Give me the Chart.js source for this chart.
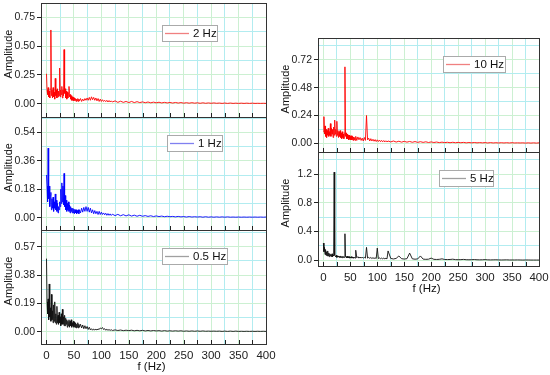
<!DOCTYPE html>
<html>
<head>
<meta charset="utf-8">
<script src="https://cdn.jsdelivr.net/npm/chart.js@4.4.1/dist/chart.umd.min.js"></script>
<style>
  body { margin: 0; background: #fff; width: 550px; height: 375px; overflow: hidden; }
  .box { position: absolute; }
</style>
</head>
<body>
<div class="box" style="left:0;top:0;width:280px;height:120px"><canvas id="c2hz"></canvas></div>
<div class="box" style="left:0;top:114px;width:280px;height:119px"><canvas id="c1hz"></canvas></div>
<div class="box" style="left:0;top:227px;width:280px;height:148px"><canvas id="c05hz"></canvas></div>
<div class="box" style="left:280px;top:35px;width:270px;height:120px"><canvas id="c10hz"></canvas></div>
<div class="box" style="left:280px;top:149px;width:270px;height:150px"><canvas id="c5hz"></canvas></div>
<script>
// frequency axis of the spectra (Hz): 1 Hz steps to 60, 2 Hz to 120, 5 Hz to 400
const freq = [
    0, 1, 2, 3, 4, 5, 6, 7, 8, 9,
    10, 11, 12, 13, 14, 15, 16, 17, 18, 19,
    20, 21, 22, 23, 24, 25, 26, 27, 28, 29,
    30, 31, 32, 33, 34, 35, 36, 37, 38, 39,
    40, 41, 42, 43, 44, 45, 46, 47, 48, 49,
    50, 51, 52, 53, 54, 55, 56, 57, 58, 59,
    60,
    62, 64, 66, 68, 70, 72, 74, 76, 78, 80,
    82, 84, 86, 88, 90, 92, 94, 96, 98, 100,
    102, 104, 106, 108, 110, 112, 114, 116, 118, 120,
    125, 130, 135, 140, 145, 150, 155, 160, 165, 170,
    175, 180, 185, 190, 195, 200, 205, 210, 215, 220,
    225, 230, 235, 240, 245, 250, 255, 260, 265, 270,
    275, 280, 285, 290, 295, 300, 305, 310, 315, 320,
    325, 330, 335, 340, 345, 350, 355, 360, 365, 370,
    375, 380, 385, 390, 395, 400
];

const amp2Hz = [
    0.26, 0.12, 0.08, 0.14, 0.06, 0.11, 0.05, 0.13, 0.64, 0.07,
    0.12, 0.05, 0.14, 0.06, 0.10, 0.04, 0.22, 0.07, 0.12, 0.05,
    0.13, 0.06, 0.11, 0.07, 0.31, 0.06, 0.12, 0.08, 0.15, 0.05,
    0.12, 0.07, 0.47, 0.09, 0.13, 0.05, 0.11, 0.04, 0.10, 0.05,
    0.09, 0.15, 0.06, 0.08, 0.04, 0.07, 0.03, 0.06, 0.03, 0.055,
    0.025, 0.05, 0.03, 0.045, 0.02, 0.04, 0.025, 0.045, 0.02, 0.04,
    0.025,
    0.045, 0.02, 0.04, 0.025, 0.045, 0.03, 0.05, 0.03, 0.055, 0.03,
    0.06, 0.035, 0.055, 0.03, 0.05, 0.025, 0.045, 0.02, 0.04, 0.02,
    0.035, 0.02, 0.03, 0.018, 0.03, 0.015, 0.028, 0.015, 0.025, 0.015,
    0.025, 0.012, 0.022, 0.012, 0.02, 0.01, 0.02, 0.01, 0.018, 0.01,
    0.016, 0.009, 0.015, 0.008, 0.014, 0.008, 0.013, 0.007, 0.012, 0.007,
    0.011, 0.006, 0.011, 0.006, 0.01, 0.005, 0.009, 0.005, 0.009, 0.005,
    0.008, 0.004, 0.008, 0.004, 0.007, 0.004, 0.007, 0.004, 0.006, 0.003,
    0.006, 0.003, 0.006, 0.003, 0.005, 0.003, 0.005, 0.003, 0.005, 0.003,
    0.005, 0.003, 0.004, 0.003, 0.004, 0.003
];

const amp1Hz = [
    0.27, 0.20, 0.10, 0.44, 0.12, 0.20, 0.07, 0.14, 0.16, 0.05,
    0.12, 0.06, 0.13, 0.04, 0.10, 0.06, 0.15, 0.05, 0.11, 0.04,
    0.09, 0.03, 0.07, 0.05, 0.10, 0.07, 0.18, 0.09, 0.22, 0.10,
    0.20, 0.08, 0.28, 0.07, 0.14, 0.05, 0.11, 0.04, 0.09, 0.05,
    0.10, 0.04, 0.08, 0.03, 0.07, 0.04, 0.06, 0.03, 0.06, 0.03,
    0.055, 0.025, 0.05, 0.03, 0.05, 0.025, 0.045, 0.03, 0.05, 0.025,
    0.05,
    0.03, 0.06, 0.035, 0.065, 0.04, 0.07, 0.04, 0.065, 0.035, 0.06,
    0.03, 0.05, 0.025, 0.045, 0.025, 0.04, 0.02, 0.04, 0.02, 0.035,
    0.02, 0.03, 0.018, 0.028, 0.015, 0.026, 0.015, 0.024, 0.014, 0.022,
    0.013, 0.021, 0.012, 0.019, 0.011, 0.018, 0.01, 0.016, 0.009, 0.015,
    0.009, 0.013, 0.008, 0.012, 0.007, 0.011, 0.007, 0.01, 0.006, 0.009,
    0.006, 0.008, 0.005, 0.008, 0.005, 0.007, 0.004, 0.007, 0.004, 0.006,
    0.004, 0.006, 0.003, 0.006, 0.003, 0.005, 0.003, 0.005, 0.003, 0.005,
    0.003, 0.005, 0.003, 0.004, 0.003, 0.004, 0.003, 0.004, 0.003, 0.004,
    0.003, 0.004, 0.003, 0.004, 0.003, 0.004
];

const amp05Hz = [
    0.49, 0.20, 0.12, 0.22, 0.08, 0.32, 0.10, 0.16, 0.07, 0.25,
    0.08, 0.14, 0.06, 0.18, 0.07, 0.20, 0.06, 0.12, 0.05, 0.17,
    0.06, 0.11, 0.05, 0.13, 0.06, 0.10, 0.04, 0.12, 0.05, 0.15,
    0.05, 0.10, 0.04, 0.11, 0.04, 0.09, 0.05, 0.08, 0.03, 0.07,
    0.04, 0.08, 0.03, 0.07, 0.04, 0.08, 0.03, 0.06, 0.04, 0.07,
    0.03, 0.065, 0.03, 0.06, 0.025, 0.05, 0.03, 0.06, 0.025, 0.05,
    0.03,
    0.05, 0.025, 0.045, 0.02, 0.04, 0.02, 0.035, 0.015, 0.03, 0.012,
    0.02, 0.01, 0.018, 0.012, 0.016, 0.012, 0.018, 0.015, 0.025, 0.02,
    0.028, 0.015, 0.02, 0.01, 0.016, 0.01, 0.014, 0.009, 0.013, 0.008,
    0.012, 0.008, 0.011, 0.007, 0.01, 0.007, 0.01, 0.006, 0.009, 0.006,
    0.009, 0.005, 0.008, 0.005, 0.008, 0.005, 0.007, 0.004, 0.007, 0.004,
    0.006, 0.004, 0.006, 0.004, 0.006, 0.003, 0.005, 0.003, 0.005, 0.003,
    0.005, 0.003, 0.005, 0.003, 0.004, 0.003, 0.004, 0.003, 0.004, 0.002,
    0.004, 0.002, 0.004, 0.002, 0.004, 0.002, 0.003, 0.002, 0.003, 0.002,
    0.003, 0.002, 0.003, 0.002, 0.003, 0.002
];

const amp10Hz = [
    0.10, 0.23, 0.08, 0.15, 0.06, 0.12, 0.05, 0.11, 0.07, 0.13,
    0.06, 0.10, 0.07, 0.17, 0.06, 0.13, 0.08, 0.12, 0.05, 0.14,
    0.07, 0.20, 0.08, 0.12, 0.06, 0.19, 0.07, 0.11, 0.05, 0.10,
    0.06, 0.11, 0.05, 0.09, 0.04, 0.10, 0.05, 0.08, 0.04, 0.09,
    0.66, 0.06, 0.09, 0.04, 0.08, 0.04, 0.07, 0.03, 0.07, 0.035,
    0.06, 0.03, 0.065, 0.03, 0.06, 0.025, 0.055, 0.03, 0.05, 0.025,
    0.06,
    0.025, 0.055, 0.03, 0.05, 0.025, 0.045, 0.02, 0.05, 0.025, 0.24,
    0.03, 0.045, 0.02, 0.04, 0.02, 0.035, 0.018, 0.032, 0.015, 0.03,
    0.015, 0.028, 0.014, 0.025, 0.013, 0.024, 0.012, 0.022, 0.012, 0.02,
    0.012, 0.02, 0.011, 0.018, 0.01, 0.017, 0.01, 0.016, 0.009, 0.015,
    0.008, 0.014, 0.008, 0.013, 0.007, 0.012, 0.007, 0.011, 0.006, 0.01,
    0.006, 0.009, 0.005, 0.009, 0.005, 0.008, 0.005, 0.008, 0.004, 0.007,
    0.004, 0.007, 0.004, 0.006, 0.004, 0.006, 0.003, 0.006, 0.003, 0.005,
    0.003, 0.005, 0.003, 0.005, 0.003, 0.005, 0.003, 0.004, 0.003, 0.004,
    0.002, 0.004, 0.002, 0.004, 0.002, 0.004
];

const amp5Hz = [
    0.24, 0.12, 0.18, 0.08, 0.15, 0.07, 0.12, 0.06, 0.13, 0.06,
    0.10, 0.05, 0.09, 0.06, 0.08, 0.05, 0.09, 0.05, 0.07, 0.06,
    1.23, 0.07, 0.06, 0.05, 0.07, 0.04, 0.06, 0.045, 0.06, 0.04,
    0.055, 0.04, 0.06, 0.04, 0.05, 0.035, 0.055, 0.04, 0.05, 0.04,
    0.37, 0.05, 0.05, 0.035, 0.055, 0.035, 0.05, 0.035, 0.05, 0.03,
    0.045, 0.035, 0.05, 0.03, 0.045, 0.03, 0.045, 0.035, 0.04, 0.03,
    0.14,
    0.035, 0.05, 0.03, 0.045, 0.03, 0.045, 0.03, 0.04, 0.03, 0.18,
    0.03, 0.04, 0.028, 0.038, 0.025, 0.036, 0.025, 0.034, 0.024, 0.17,
    0.024, 0.032, 0.022, 0.03, 0.02, 0.03, 0.02, 0.028, 0.02, 0.13,
    0.025, 0.018, 0.026, 0.06, 0.022, 0.017, 0.022, 0.10, 0.02, 0.015,
    0.019, 0.06, 0.016, 0.013, 0.015, 0.03, 0.013, 0.011, 0.013, 0.02,
    0.011, 0.01, 0.011, 0.015, 0.009, 0.008, 0.009, 0.012, 0.008, 0.007,
    0.008, 0.01, 0.007, 0.006, 0.007, 0.009, 0.006, 0.005, 0.006, 0.007,
    0.005, 0.004, 0.005, 0.006, 0.004, 0.004, 0.004, 0.005, 0.004, 0.003,
    0.004, 0.004, 0.003, 0.003, 0.003, 0.003
];

// tick labels
const xLabels = [0, 50, 100, 150, 200, 250, 300, 350, 400];
const yLabels2Hz = ['0.00', '0.25', '0.50', '0.75'];
const yLabels1Hz = ['0.00', '0.18', '0.36', '0.54'];
const yLabels05Hz = ['0.00', '0.19', '0.38', '0.57'];
const yLabels10Hz = ['0.00', '0.24', '0.48', '0.72'];
const yLabels5Hz = ['0.0', '0.4', '0.8', '1.2'];

const FONT = "'Liberation Sans', Arial, sans-serif";
const GRID_MAJOR = 'rgb(204,240,210)';
const GRID_MINOR = 'rgb(178,236,240)';

// frame, inward x ticks, legend box and axis titles for one panel
function framePlugin(lg, xTitle) {
    return {
        id: 'frame',
        afterDatasetsDraw(chart) {
            const ctx = chart.ctx, a = chart.chartArea;
            ctx.save();
            const xs = chart.scales.x;
            ctx.lineWidth = 1;
            ctx.strokeStyle = '#222';
            ctx.beginPath();
            for (let v = 0; v <= 400; v += 25) {
                const px = Math.round(xs.getPixelForValue(v)) + 0.5;
                ctx.moveTo(px, a.bottom);
                ctx.lineTo(px, a.bottom - 4);
            }
            ctx.stroke();
            ctx.strokeStyle = '#333';
            ctx.strokeRect(Math.round(a.left) + 0.5, Math.round(a.top) + 0.5,
                Math.round(a.right - a.left), Math.round(a.bottom - a.top));

            const lx = Math.round(a.left + lg.x), ly = Math.round(a.top + lg.y);
            ctx.fillStyle = '#fff';
            ctx.fillRect(lx, ly, lg.w, 16);
            ctx.strokeStyle = '#aaa';
            ctx.strokeRect(lx + 0.5, ly + 0.5, lg.w, 16);
            ctx.beginPath();
            ctx.lineWidth = 1.3;
            ctx.strokeStyle = lg.swatch;
            ctx.moveTo(lx + 3, ly + 8.5);
            ctx.lineTo(lx + 27, ly + 8.5);
            ctx.stroke();
            ctx.fillStyle = '#111';
            ctx.font = '11.5px ' + FONT;
            ctx.textBaseline = 'middle';
            ctx.textAlign = 'left';
            ctx.fillText(lg.text, lx + 31, ly + 9);

            ctx.textAlign = 'center';
            ctx.font = '11px ' + FONT;
            ctx.save();
            ctx.translate(a.left - 32, (a.top + a.bottom) / 2 - 6);
            ctx.rotate(-Math.PI / 2);
            ctx.fillText('Amplitude', 0, 0);
            ctx.restore();
            if (xTitle) {
                ctx.font = '11.5px ' + FONT;
                ctx.fillText('f (Hz)', (a.left + a.right) / 2 - 2, a.bottom + 23);
            }
            ctx.restore();
        }
    };
}

function spectrum(id, amps, color, yLabels, yMin, yMax, geo, legend) {
    const vals = yLabels.map(Number);
    const step = (vals[1] - vals[0]) / 2;
    new Chart(document.getElementById(id).getContext('2d'), {
        type: 'line',
        data: {
            datasets: [{
                data: freq.map((f, i) => ({ x: f, y: amps[i] })),
                borderColor: color, borderWidth: 0.9, pointRadius: 0, tension: 0
            }]
        },
        options: {
            responsive: true, maintainAspectRatio: false, animation: false,
            layout: { padding: { left: 0, top: geo.top, right: geo.right, bottom: 0 } },
            plugins: { legend: { display: false }, tooltip: { enabled: false } },
            scales: {
                x: {
                    type: 'linear', min: -10, max: 400,
                    afterBuildTicks: s => {
                        const t = [];
                        for (let v = 0; v <= 400; v += 25) t.push({ value: v });
                        s.ticks = t;
                    },
                    afterFit: s => { s.height = geo.xh; s.paddingLeft = 0; s.paddingRight = 0; },
                    grid: { drawTicks: false, color: c => (c.tick && c.tick.value % 50 === 0) ? GRID_MAJOR : GRID_MINOR },
                    border: { display: false },
                    ticks: {
                        display: geo.xTitle, padding: 5, color: '#222', maxRotation: 0, autoSkip: false,
                        font: { family: FONT, size: 11.5 },
                        callback: v => xLabels.includes(v) ? String(v) : ''
                    }
                },
                y: {
                    min: yMin, max: yMax,
                    afterBuildTicks: s => {
                        const t = [];
                        for (let k = Math.ceil(yMin / step); k * step <= yMax; k++) t.push({ value: k * step });
                        s.ticks = t;
                    },
                    afterFit: s => { s.width = geo.yw; s.paddingTop = 0; s.paddingBottom = 0; },
                    grid: {
                        tickLength: 4,
                        color: c => {
                            if (!c.tick) return GRID_MINOR;
                            const k = Math.round(c.tick.value / step);
                            return k % 2 === 0 ? GRID_MAJOR : GRID_MINOR;
                        },
                        tickColor: c => {
                            const k = Math.round(c.tick.value / step);
                            return (k % 2 === 0 && k >= 0) ? '#222' : 'rgba(0,0,0,0)';
                        }
                    },
                    border: { display: false },
                    ticks: {
                        padding: 2, color: '#222', autoSkip: false,
                        font: { family: FONT, size: 10.5 },
                        callback: v => {
                            const k = Math.round(v / step);
                            return (k % 2 === 0 && k >= 0 && k / 2 < yLabels.length) ? yLabels[k / 2] : '';
                        }
                    }
                }
            }
        },
        plugins: [framePlugin(legend, geo.xTitle)]
    });
}

spectrum('c2hz', amp2Hz, '#ff0000', yLabels2Hz, -0.115, 0.874,
    { top: 3, right: 14, xh: 3, yw: 41, xTitle: false },
    { text: '2 Hz', swatch: '#f08080', x: 121, y: 22, w: 55 });
spectrum('c1hz', amp1Hz, '#0000ff', yLabels1Hz, -0.078, 0.637,
    { top: 3, right: 14, xh: 3, yw: 41, xTitle: false },
    { text: '1 Hz', swatch: '#8080f0', x: 126, y: 18, w: 55 });
spectrum('c05hz', amp05Hz, '#111111', yLabels05Hz, -0.0825, 0.682,
    { top: 3, right: 14, xh: 31, yw: 41, xTitle: true },
    { text: '0.5 Hz', swatch: '#a0a0a0', x: 121, y: 18, w: 65 });
spectrum('c10hz', amp10Hz, '#ff0000', yLabels10Hz, -0.075, 0.909,
    { top: 3, right: 11, xh: 3, yw: 38, xTitle: false },
    { text: '10 Hz', swatch: '#f08080', x: 125, y: 18, w: 62 });
spectrum('c5hz', amp5Hz, '#111111', yLabels5Hz, -0.08, 1.511,
    { top: 3, right: 11, xh: 33, yw: 38, xTitle: true },
    { text: '5 Hz', swatch: '#a0a0a0', x: 121, y: 18, w: 54 });
</script>
</body>
</html>
